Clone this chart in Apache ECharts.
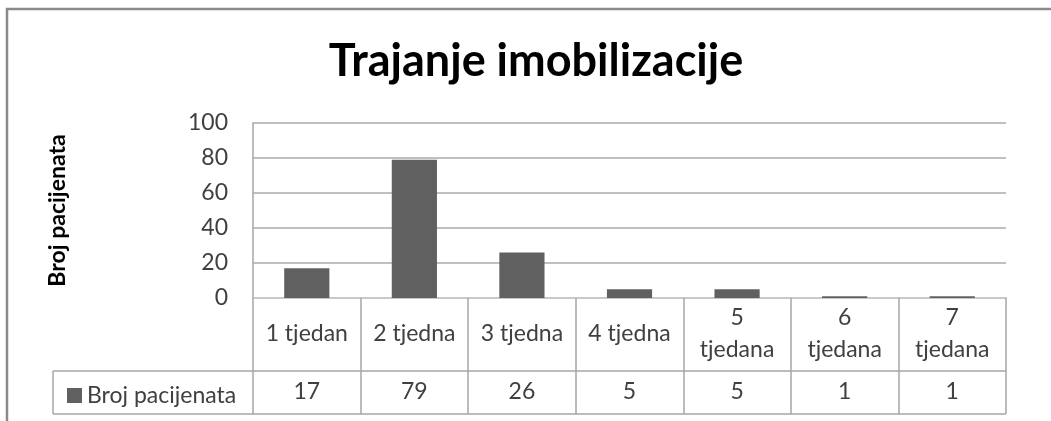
<!DOCTYPE html>
<html>
<head>
<meta charset="utf-8">
<title>Trajanje imobilizacije</title>
<script src="https://cdn.jsdelivr.net/npm/echarts@6/dist/echarts.min.js"></script>
<style>
  html, body { margin: 0; padding: 0; background: #fff; }
  #chart { width: 1051px; height: 421px; }
</style>
</head>
<body>
<div id="chart"></div>
<script>
// podaci s grafikona
const categories = ['1 tjedan', '2 tjedna', '3 tjedna', '4 tjedna', '5 tjedana', '6 tjedana', '7 tjedana'];
const patients = [17, 79, 26, 5, 5, 1, 1];
const seriesName = 'Broj pacijenata';
const yTicks = { min: 0, max: 100, interval: 20 };

const font = 'Lato, "DejaVu Sans", sans-serif';
const textColor = '#404040';
const lineColor = '#a6a6a6';

const chart = echarts.init(document.getElementById('chart'));

chart.setOption({
  animation: false,
  title: {
    text: 'Trajanje imobilizacije',
    left: 531,
    top: 34,
    textAlign: 'center',
    textStyle: { fontFamily: font, fontSize: 45, fontWeight: 'bold', color: '#000' }
  },
  legend: {
    data: [seriesName],
    left: 62,
    top: 379,
    icon: 'rect',
    itemWidth: 15,
    itemHeight: 15,
    itemGap: 6,
    textStyle: { fontFamily: font, fontSize: 23, color: textColor }
  },
  grid: { left: 253, right: 45, top: 123, bottom: 123 },
  xAxis: [
    {
      type: 'category',
      data: categories,
      position: 'bottom',
      axisLine: { lineStyle: { color: '#c8c8c8', width: 2 } },
      axisTick: { show: true, interval: 0, inside: false, length: 116, lineStyle: { color: lineColor, width: 1.5 } },
      axisLabel: {
        interval: 0,
        margin: 36,
        verticalAlign: 'middle',
        align: 'center',
        fontFamily: font,
        fontSize: 23,
        lineHeight: 32,
        color: textColor,
        // dugi nazivi idu u dva reda kao u Excelu
        formatter: (v) => (v.length > 8 ? v.replace(' ', '\n') : v)
      }
    },
    {
      type: 'category',
      data: patients.map(String),
      position: 'bottom',
      axisLine: { show: false },
      axisTick: { show: false },
      axisLabel: {
        interval: 0,
        margin: 94,
        verticalAlign: 'middle',
        fontFamily: font,
        fontSize: 23,
        color: textColor
      }
    }
  ],
  yAxis: {
    type: 'value',
    min: yTicks.min,
    max: yTicks.max,
    interval: yTicks.interval,
    name: seriesName,
    nameLocation: 'middle',
    nameGap: 184,
    nameRotate: 90,
    nameTextStyle: { fontFamily: font, fontSize: 23, fontWeight: 'bold', color: '#000' },
    axisLine: { show: true, lineStyle: { color: lineColor, width: 1.5 } },
    axisTick: { show: false },
    axisLabel: { margin: 25, fontFamily: font, fontSize: 23, color: textColor },
    splitLine: { lineStyle: { color: '#c0c0c0', width: 2 } }
  },
  series: [
    {
      name: seriesName,
      type: 'bar',
      data: patients,
      barWidth: '42%',
      itemStyle: { color: '#606060' }
    }
  ],
  graphic: [
    // okvir grafikona
    {
      type: 'rect',
      shape: { x: 7, y: 9, width: 1200, height: 600 },
      style: { fill: 'none', stroke: '#8a8a8a', lineWidth: 2.5 }
    },
    // crte tablice podataka
    {
      type: 'line',
      shape: { x1: 53, y1: 371, x2: 1006, y2: 371 },
      style: { stroke: lineColor, lineWidth: 1.5 }
    },
    {
      type: 'line',
      shape: { x1: 53, y1: 414, x2: 1006, y2: 414 },
      style: { stroke: lineColor, lineWidth: 1.5 }
    },
    {
      type: 'line',
      shape: { x1: 53, y1: 371, x2: 53, y2: 414 },
      style: { stroke: lineColor, lineWidth: 1.5 }
    }
  ]
});
</script>
</body>
</html>
